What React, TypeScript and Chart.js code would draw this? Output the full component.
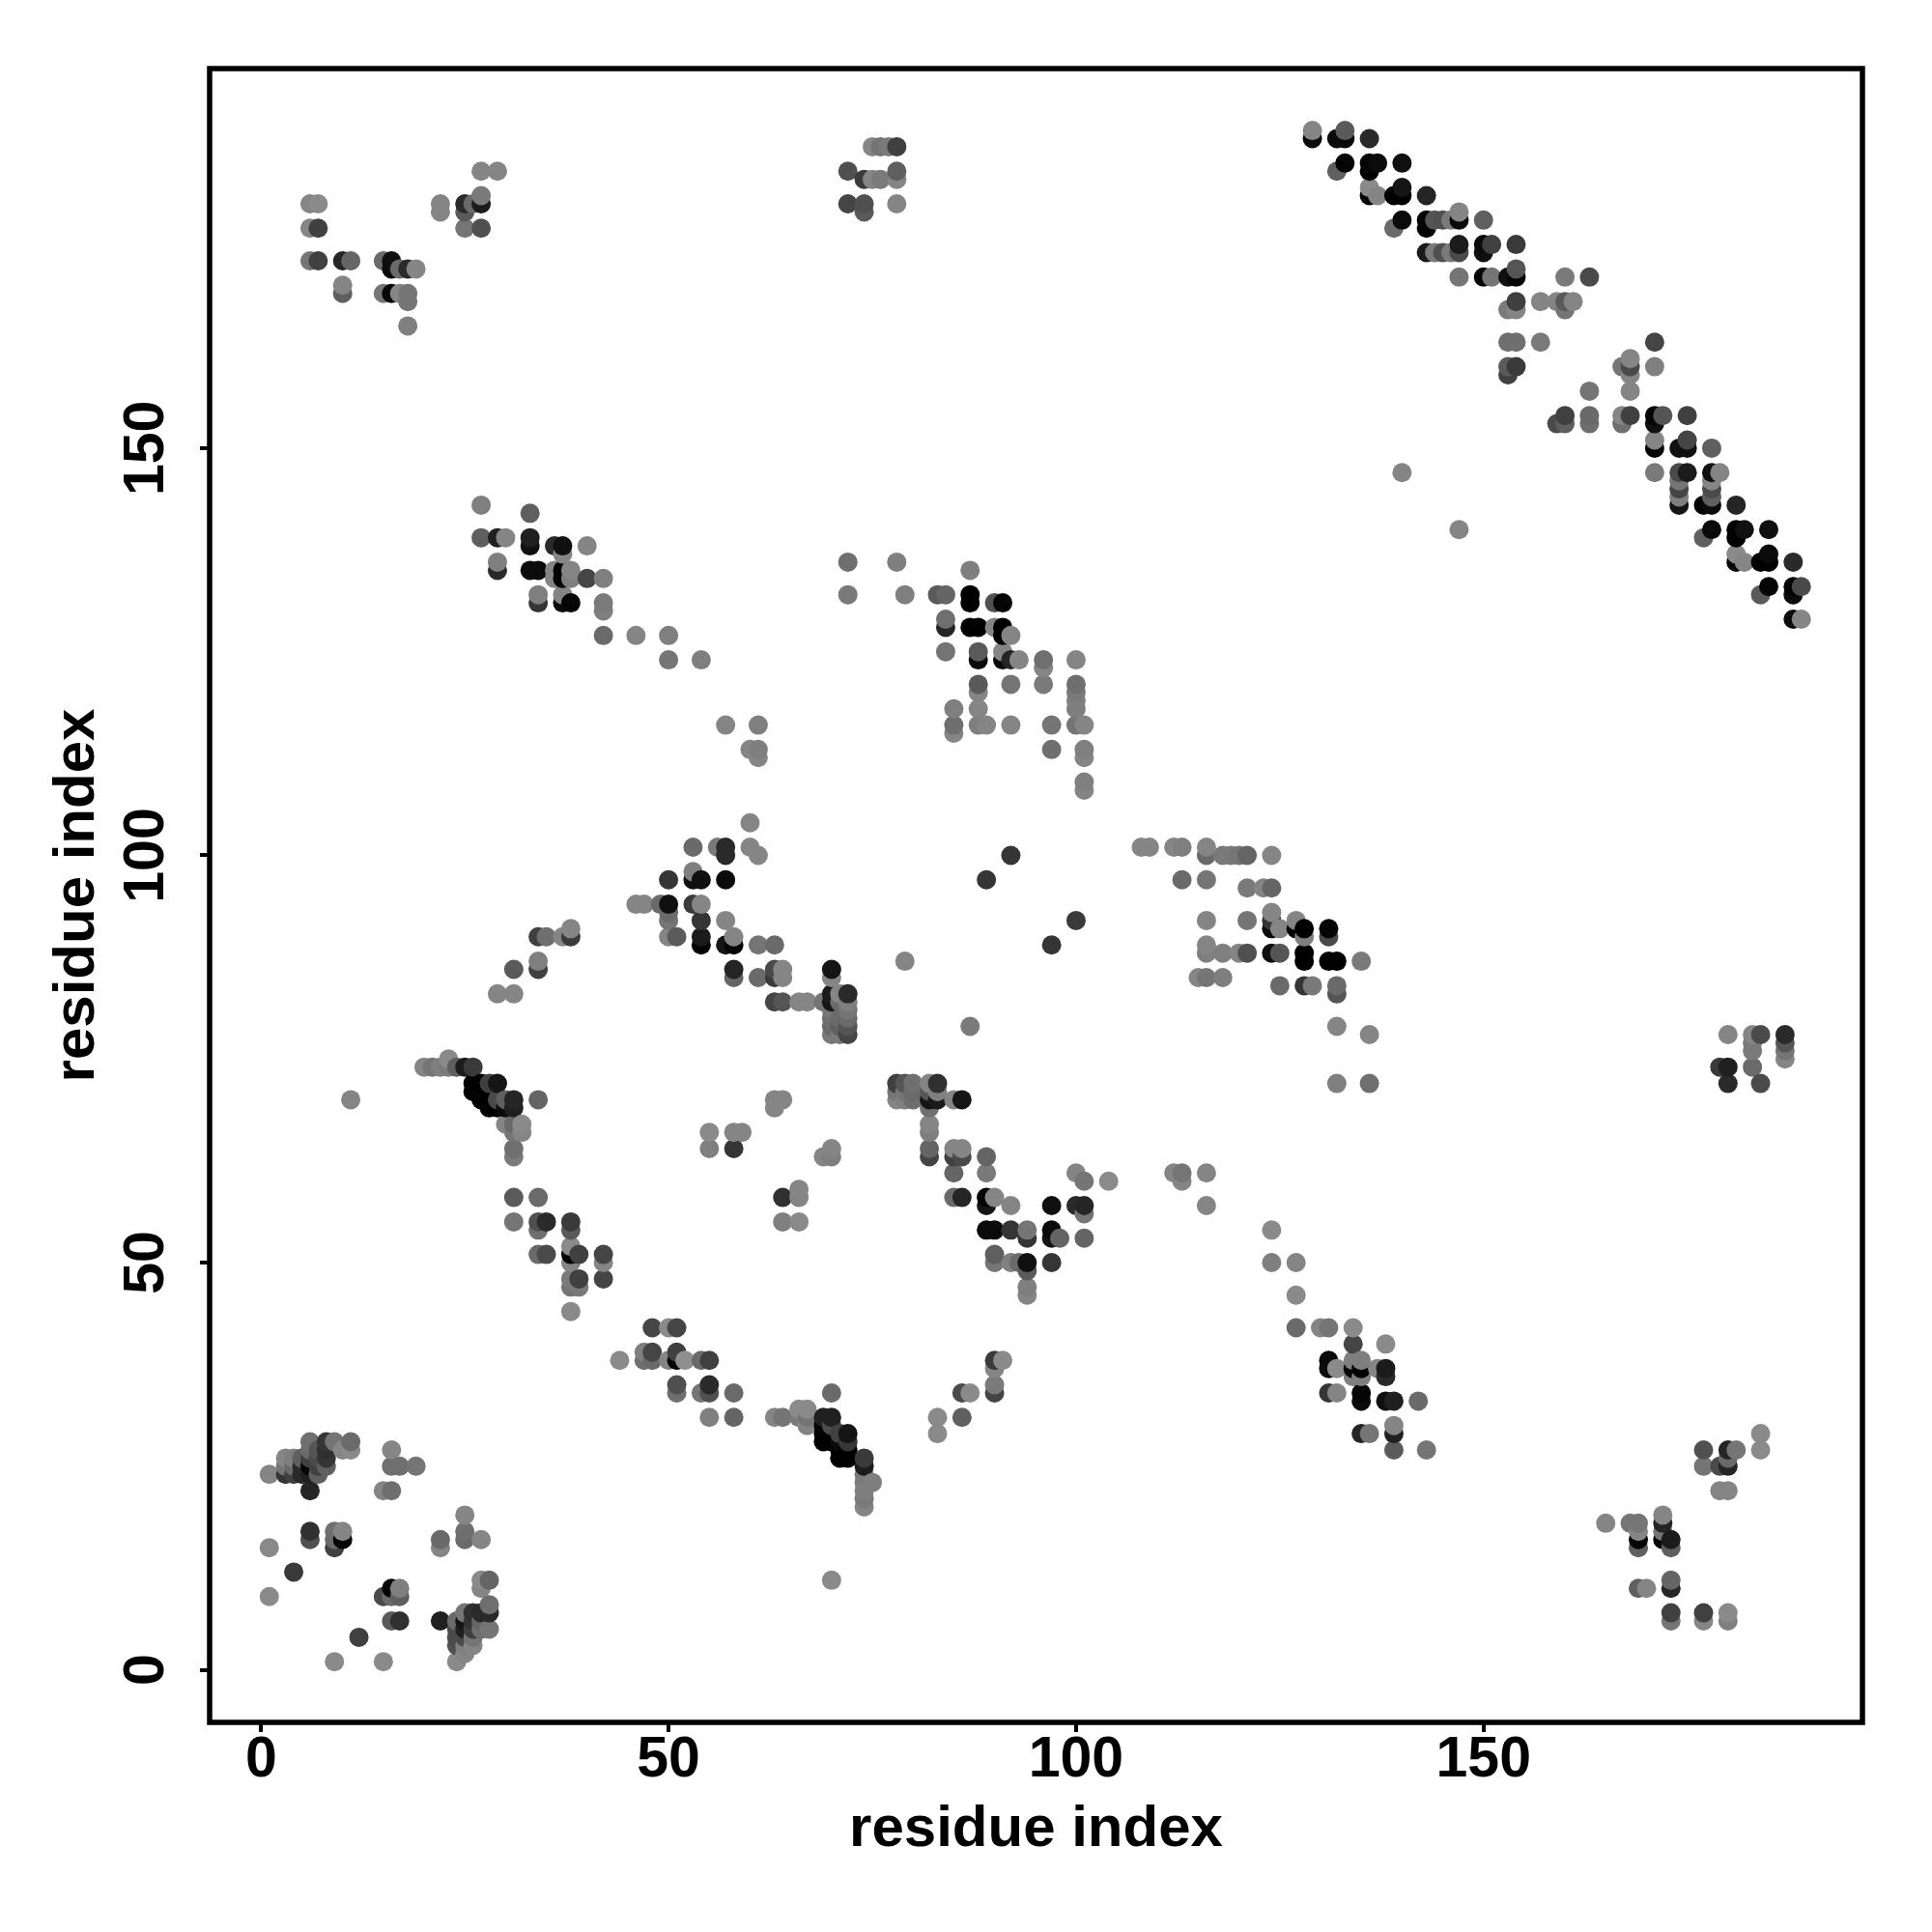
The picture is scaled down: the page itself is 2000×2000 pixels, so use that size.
import React, { useEffect, useRef } from "react";
import { Chart, registerables } from "chart.js";

Chart.register(...registerables);

type Contact = [number, number, number]; // residue i, residue j, grey level of the mark

const axisTitle = "residue index";
const tickValues = [0, 50, 100, 150];

const cornerBottomLeft: Contact[] = [
  [9,1,130],[15,1,130],[24,1,130],[12,4,60],[22,6,30],[16,6,85],[17,6,45],[15,9,70],[16,9,100],[17,9,90],[16,10,5],[17,10,120],
  [1,9,130],[4,12,55],[1,15,130],[6,16,75],[6,17,45],[9,15,60],[9,16,100],[9,17,105],[10,16,5],[10,17,125],[22,15,125],[22,16,100],
  [25,16,100],[25,17,105],[25,19,125],[27,16,125],[6,22,35],[15,22,125],[16,22,105],[16,25,105],[17,25,105],[19,25,110],[16,27,125],[1,24,125],
  [3,24,50],[4,24,60],[5,24,40],[6,24,30],[7,24,90],[3,25,110],[4,25,100],[5,25,40],[6,25,5],[7,25,60],[8,25,90],
  [3,26,125],[4,26,120],[5,26,90],[6,26,60],[7,26,70],[8,26,50],[6,27,100],[7,27,80],[8,27,45],[6,28,105],[8,28,50],[9,28,110],[10,27,125],[11,27,130],[11,28,100],
  [24,3,75],[24,4,70],[24,5,70],[24,6,100],[25,2,125],[25,3,120],[25,4,70],[25,5,30],[25,6,20],[25,7,110],[26,3,125],[26,4,110],[26,5,60],[26,6,50],[26,7,45],
  [27,5,105],[27,6,95],[27,7,40],[27,10,125],[27,11,130],[28,5,110],[28,7,40],[28,8,105],[28,11,95],
];

const strandLower: Contact[] = [
  [48,42,65],[50,42,130],[51,42,65],[44,38,130],[47,39,120],[48,39,65],[47,38,105],[48,38,100],[50,38,125],[51,39,60],[51,38,5],[52,38,135],[54,38,100],[55,38,60],
  [51,35,75],[51,34,105],[54,34,110],[55,35,40],[55,34,75],[58,34,100],[55,31,120],[58,31,95],[63,31,125],[64,31,110],[66,32,130],[67,32,130],[66,31,115],[67,31,110],[67,30,125],
  [70,34,100],[69,31,30],[70,31,30],[69,30,5],[70,30,70],[69,29,0],[69,28,0],[70,29,0],[70,28,0],[71,29,60],[72,29,20],[71,28,10],[72,28,50],[71,27,0],[72,27,0],[71,26,0],[72,26,0],
  [74,26,55],[74,25,25],[74,24,115],[74,23,120],[75,23,120],[74,22,120],[74,21,115],[74,20,125],[70,11,130],[83,31,130],[83,29,130],[86,31,90],[86,34,70],[87,34,130],
  [90,34,65],[90,35,115],[90,37,125],[90,38,55],[91,38,130],
];

const cornerBottomRight: Contact[] = [
  [116,61,125],[116,57,125],[124,54,130],[124,50,120],[127,50,125],[127,46,130],[127,42,100],[130,42,125],[131,42,110],[134,42,130],[134,40,65],[138,40,130],
  [131,38,10],[131,37,10],[132,37,130],[134,38,120],[135,38,120],[134,37,5],[135,37,0],[134,36,120],[135,36,120],[137,37,125],[138,37,25],[138,36,40],
  [131,34,50],[132,34,125],[135,34,5],[135,33,10],[138,33,15],[139,33,30],[142,33,100],[135,29,35],[136,29,110],[139,30,125],[139,29,30],[139,27,85],[143,27,110],
  [184,29,130],[184,27,130],[177,27,75],[180,27,35],[181,27,110],[177,25,110],[179,25,70],[180,26,100],[180,25,35],[179,22,125],[180,22,125],
  [165,18,125],[168,18,110],[169,18,110],[169,17,125],[169,16,5],[169,15,90],[172,19,125],[172,18,35],[172,17,110],[172,16,5],[173,16,25],[173,15,90],
  [169,10,90],[170,10,125],[173,11,95],[173,10,35],[173,7,60],[173,6,110],[177,7,60],[177,6,125],[180,7,130],[180,6,120],
];

const strandMiddleLeft: Contact[] = [
  [20,74,125],[21,74,110],[22,74,120],[23,75,130],[23,74,115],[24,74,90],[25,74,25],[26,74,55],[26,72,0],[26,71,0],[27,72,0],[27,71,5],[27,70,0],[28,72,60],[29,72,20],
  [28,70,0],[29,70,70],[28,69,0],[29,69,0],[30,70,90],[30,69,10],[31,70,35],[31,69,30],[34,70,95],[11,70,125],[30,67,125],[31,67,100],[32,67,130],[31,66,110],[32,66,125],[31,64,105],[31,63,115],
  [31,58,85],[34,58,100],[31,55,110],[34,55,75],[35,55,40],[34,54,105],[38,55,55],[38,54,85],[34,51,100],[35,51,70],[38,52,130],[38,51,0],[39,51,60],[38,50,125],[42,51,65],[42,50,125],
  [38,48,115],[39,48,60],[38,47,110],[39,47,115],[42,48,65],[38,44,130],[55,66,130],[55,64,120],[58,66,125],[59,66,125],[58,64,50],[63,70,125],[64,70,125],[63,69,125],[70,64,125],[69,63,125],[70,63,120],
  [64,58,45],[66,59,125],[66,58,125],[64,55,120],[66,55,130],
];

const vShapeCentre: Contact[] = [
  [78,72,60],[79,72,80],[80,72,105],[82,72,125],[83,72,45],[78,71,110],[79,71,110],[80,71,100],[82,71,80],[83,71,120],[78,70,125],[79,70,120],[80,70,105],[82,70,20],[83,70,25],[85,70,125],[86,70,20],
  [82,69,105],[82,67,125],[82,66,120],[82,64,95],[82,63,65],[85,64,125],[86,64,125],[85,63,60],[86,63,70],[89,63,95],[89,61,115],[85,61,95],[85,58,100],[86,58,35],[89,58,5],[89,57,20],[90,58,125],[92,57,125],
  [89,54,10],[90,54,10],[92,54,50],[94,54,110],[94,53,50],[90,51,90],[90,50,110],[92,50,120],[93,50,100],[94,50,15],[94,49,85],[94,47,120],[94,46,125],
  [97,57,15],[97,54,10],[97,53,20],[98,53,95],[97,50,50],[100,57,40],[101,57,35],[101,56,110],[101,53,95],[100,61,125],[101,60,110],[104,60,130],[112,61,125],[113,61,110],[113,60,125],
];

const crossBandLeft: Contact[] = [
  [57,116,125],[61,116,120],[60,113,125],[61,113,120],[61,112,125],[60,104,125],[53,101,100],[56,101,115],[57,101,40],[57,100,40],[60,101,125],[61,100,125],
  [53,98,120],[53,97,15],[54,97,15],[50,97,50],[57,97,10],[46,94,125],[47,94,125],[49,94,100],[50,94,15],[50,93,100],[50,92,110],[53,94,55],[54,94,125],[54,92,50],
  [50,90,125],[51,90,85],[54,90,25],[54,89,5],[57,92,125],[57,89,20],[58,90,125],[58,89,5],[61,89,110],[63,89,100],[58,86,35],[58,85,95],[61,85,100],[63,86,70],[63,85,55],[64,86,125],[64,85,125],
  [70,86,20],[70,85,125],[63,82,65],[64,82,80],[66,82,125],[67,82,125],[69,82,110],[70,83,25],[70,82,20],[71,83,125],[72,83,40],[72,82,120],[71,82,100],[70,81,110],[72,81,110],
  [70,80,105],[71,80,100],[72,80,100],[70,79,100],[71,79,90],[72,79,80],[70,78,115],[71,78,115],[72,78,65],
  [29,83,125],[31,83,125],[31,86,85],[34,86,60],[34,87,120],[34,90,60],[35,90,105],[37,90,125],[38,90,55],[38,91,125],[79,87,125],[87,79,115],[89,97,50],[92,100,50],[97,89,50],[100,92,55],
];

const crossBandRight: Contact[] = [
  [108,101,125],[109,101,125],[112,101,125],[113,101,120],[116,101,125],[116,100,100],[118,100,115],[119,100,115],[120,100,110],[121,100,95],[124,100,125],[113,97,100],[116,97,110],[121,96,115],[123,96,125],[124,96,95],
  [116,92,125],[121,92,110],[124,93,125],[124,92,50],[124,91,10],[125,91,125],[127,92,125],[127,91,5],[128,91,0],[128,90,120],[131,91,5],[131,90,70],
  [116,89,125],[116,88,120],[118,88,120],[120,88,125],[121,88,75],[124,88,15],[125,88,80],[128,88,0],[128,87,0],[131,87,0],[132,87,0],[135,87,115],
  [115,85,125],[116,85,110],[118,85,120],[125,84,100],[128,84,50],[129,84,115],[132,84,100],[132,83,80],[132,79,125],[136,78,125],[132,72,120],[136,72,105],
  [180,78,125],[183,78,125],[184,78,70],[187,78,40],[187,77,80],[187,76,110],[187,75,125],[183,77,115],[183,76,115],[183,74,100],[179,74,55],[180,74,30],[180,72,40],[184,72,70],
];

const strandUpperLeft: Contact[] = [
  [27,143,120],[33,142,90],[27,139,90],[29,139,30],[30,139,125],[33,139,30],[33,138,15],[36,138,40],[37,138,15],[37,137,125],[40,138,125],[29,136,120],[29,135,40],
  [33,135,10],[34,135,10],[36,135,125],[36,134,125],[37,135,0],[37,134,5],[38,135,125],[38,134,120],[40,134,65],[42,134,120],[34,132,120],[34,131,50],[37,132,125],[37,131,10],[38,131,5],
  [42,131,115],[42,130,120],[42,127,100],[46,127,125],[50,127,120],[50,124,110],[54,124,120],
];

const upperMiddleBlock: Contact[] = [
  [72,136,105],[78,136,120],[72,132,115],[79,132,120],[83,132,85],[84,132,95],[87,135,120],[87,132,0],[87,131,0],[90,131,75],[91,131,5],[84,129,105],[84,128,35],[87,128,0],[88,128,0],[90,128,125],[91,128,0],[91,127,0],[92,127,125],
  [84,125,110],[88,125,85],[88,124,10],[91,125,125],[91,124,10],[92,124,35],[93,124,125],[96,124,105],[96,123,125],[100,124,125],[88,121,85],[88,120,125],[92,121,110],[96,121,115],[100,121,105],[100,120,115],[100,119,120],[100,118,120],
  [85,118,120],[85,116,105],[85,115,125],[88,118,125],[88,116,120],[89,116,125],[92,116,125],[97,116,110],[100,116,110],[101,116,125],[97,113,105],[101,113,120],[101,112,125],[101,109,120],[101,108,125],
];

const diagonalLower: Contact[] = [
  [153,163,105],[154,163,105],[157,163,115],[171,163,65],[171,160,120],[153,160,85],[154,160,55],[153,159,60],[163,157,110],[168,161,125],[168,160,70],[168,159,125],[167,160,110],[168,157,125],
  [160,154,60],[163,154,100],[163,153,105],[159,153,70],[160,153,90],[167,154,125],[167,153,105],[168,154,60],[171,154,5],[171,153,15],[172,154,80],[175,154,60],
  [171,151,125],[171,150,5],[174,150,15],[175,151,65],[175,150,15],[178,150,90],[171,147,115],[174,147,70],[175,147,25],[174,146,110],[174,145,65],[174,144,120],[174,143,20],
  [178,147,15],[179,147,125],[178,146,125],[178,145,70],[178,144,90],[177,143,5],[178,143,10],[181,143,35],[178,140,10],[177,139,90],[181,140,0],[181,139,0],[182,140,15],[185,140,15],
  [181,137,130],[182,136,125],[181,136,5],[185,137,10],[184,136,0],[185,136,0],[188,136,40],[185,133,5],[184,132,85],[188,133,0],[189,133,70],[188,132,10],[188,129,10],[189,129,125],[140,147,125],[147,140,125],
];

const diagonalUpper: Contact[] = [
  [129,189,125],[129,188,10],[132,188,10],[133,189,85],[133,188,10],[136,188,40],[132,184,90],[133,185,5],[136,185,5],[136,184,0],[137,185,10],[140,185,15],
  [136,182,130],[136,181,5],[137,181,125],[139,181,0],[140,182,20],[140,181,0],[143,181,35],[139,177,100],[140,178,10],[143,178,5],[143,177,5],[144,178,80],[145,178,75],[146,178,115],[147,179,125],[147,178,10],[150,178,90],
  [143,174,25],[144,174,115],[145,174,75],[146,174,115],[147,175,25],[147,174,70],[150,175,10],[150,174,15],[151,175,60],[154,175,55],[147,171,110],[150,171,5],[151,171,110],[153,171,15],[154,172,80],[154,171,5],[160,171,115],[163,171,70],
  [154,168,60],[153,167,115],[154,167,125],[157,168,125],[159,168,125],[160,168,85],[161,168,125],[160,167,110],
];

const topLeftBlocks: Contact[] = [
  [6,180,125],[7,180,130],[6,177,125],[7,177,60],[6,173,110],[7,173,60],[10,173,35],[11,173,95],[10,170,125],[10,169,90],[15,173,100],[16,173,15],[16,172,10],[17,172,100],[18,172,40],[19,172,125],
  [15,169,110],[16,169,5],[17,169,125],[18,169,110],[18,168,110],[18,165,120],[22,180,125],[22,179,125],[25,180,40],[26,180,100],[27,180,25],[27,181,115],[25,179,85],[25,177,110],[27,177,75],[27,184,125],[29,184,125],
  [72,184,75],[74,183,55],[75,183,125],[76,183,115],[78,184,90],[78,183,125],[72,180,65],[74,180,75],[74,179,85],[78,180,125],[75,187,125],[76,187,110],[77,187,115],[78,187,60],
];

const contacts: Contact[] = [
  ...cornerBottomLeft, ...strandLower, ...cornerBottomRight, ...strandMiddleLeft, ...vShapeCentre, ...crossBandLeft,
  ...crossBandRight, ...strandUpperLeft, ...upperMiddleBlock, ...diagonalLower, ...diagonalUpper, ...topLeftBlocks,
].sort((a, b) => a[0] - b[0] || a[1] - b[1]);

const FONT = "'Liberation Sans', Arial, sans-serif";

const greyOf = (g: number) => {
  const v = Math.round(g * 1.06);
  return `rgb(${v},${v},${v})`;
};

const framePlugin = {
  id: "frame",
  afterDraw(chart: Chart) {
    const { ctx, chartArea: a } = chart;
    ctx.save();
    ctx.strokeStyle = "#000";
    ctx.lineWidth = 5.5;
    ctx.strokeRect(a.left, a.top, a.right - a.left, a.bottom - a.top);
    ctx.restore();
  },
};

export default function App() {
  const ref = useRef<HTMLCanvasElement>(null);
  useEffect(() => {
    const chart = new Chart(ref.current!, {
      type: "scatter",
      data: {
        datasets: [
          {
            data: contacts.map(([x, y]) => ({ x, y })),
            pointRadius: 10,
            pointBorderWidth: 0,
            pointBackgroundColor: contacts.map(([, , g]) => greyOf(g)),
          },
        ],
      },
      plugins: [framePlugin],
      options: {
        animation: false,
        responsive: false,
        layout: { padding: { top: 71, right: 72, left: 0, bottom: 0 } },
        plugins: { legend: { display: false }, tooltip: { enabled: false } },
        scales: {
          x: {
            type: "linear",
            min: -6.32,
            max: 196.5,
            afterFit: (s: any) => { s.height = 217; },
            afterBuildTicks: (s: any) => { s.ticks = tickValues.map((value) => ({ value })); },
            border: { display: false },
            grid: { drawOnChartArea: false, drawTicks: true, tickLength: 10, tickWidth: 4, tickColor: "#000", lineWidth: 4 },
            ticks: { color: "#000", font: { family: FONT, size: 59, weight: "bold" }, padding: -6, maxRotation: 0, minRotation: 0 },
            title: { display: true, text: axisTitle, color: "#000", font: { family: FONT, size: 60, weight: "bold" }, padding: { top: 0, bottom: 70 } },
          },
          y: {
            type: "linear",
            min: -6.45,
            max: 196.6,
            afterFit: (s: any) => { s.width = 217; },
            afterBuildTicks: (s: any) => { s.ticks = tickValues.map((value) => ({ value })); },
            border: { display: false },
            grid: { drawOnChartArea: false, drawTicks: true, tickLength: 10, tickWidth: 4, tickColor: "#000", lineWidth: 4 },
            ticks: { color: "#000", font: { family: FONT, size: 59, weight: "bold" }, padding: 5, minRotation: 90, maxRotation: 90, crossAlign: "center" },
            title: { display: true, text: axisTitle, color: "#000", font: { family: FONT, size: 60, weight: "bold" }, padding: { top: 44, bottom: 0 } },
          },
        },
      },
    } as any);
    return () => chart.destroy();
  }, []);
  return <canvas ref={ref} width={2000} height={2000} style={{ position: "absolute", left: 0, top: 0, width: 2000, height: 2000 }} />;
}
